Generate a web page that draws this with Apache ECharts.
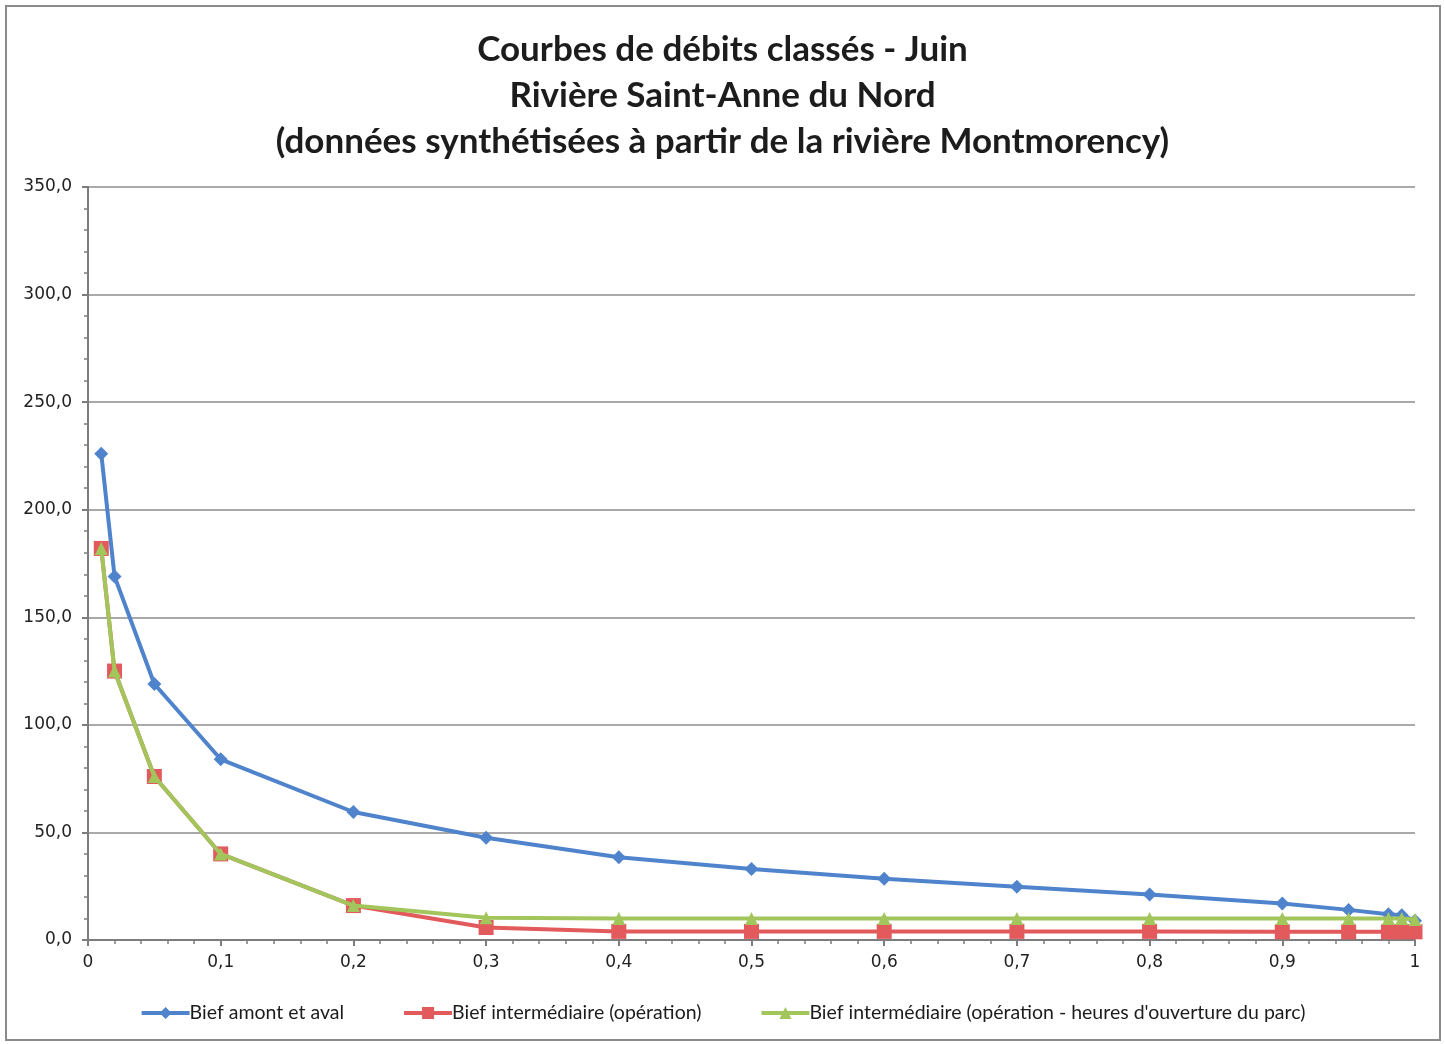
<!DOCTYPE html>
<html>
<head>
<meta charset="utf-8">
<script src="https://cdn.jsdelivr.net/npm/echarts@6/dist/echarts.min.js"></script>
<style>
  html, body { margin: 0; padding: 0; background: #fff; }
  #chart { width: 1445px; height: 1044px; }
</style>
</head>
<body>
<div id="chart"></div>
<script>
// Fréquence de dépassement (fraction du temps)
const frequences = [0.01, 0.02, 0.05, 0.1, 0.2, 0.3, 0.4, 0.5, 0.6, 0.7, 0.8, 0.9, 0.95, 0.98, 0.99, 1.0];
// Débits (m³/s)
const biefAmontAval = [226, 169, 119, 84, 59.5, 47.5, 38.5, 33, 28.5, 24.8, 21.2, 17, 14, 12, 11.5, 9];
const biefOperation = [182, 125, 76, 40, 16, 5.8, 4, 4, 4, 4, 4, 3.8, 3.8, 3.8, 3.8, 3.8];
const biefOuverture = [182, 125, 76, 40, 16, 10.3, 10, 10, 10, 10, 10, 10, 10, 10, 10, 9.5];

const titre = 'Courbes de débits classés - Juin\nRivière Saint-Anne du Nord\n(données synthétisées à partir de la rivière Montmorency)';
const nomsSeries = ['Bief amont et aval', 'Bief intermédiaire (opération)', 'Bief intermédiaire (opération - heures d\'ouverture du parc)'];
const couleurs = ['#4f84cc', '#e25a5c', '#a2c65c'];

const toPairs = (ys) => frequences.map((x, i) => [x, ys[i]]);
const frNum = (v, d) => v.toFixed(d).replace('.', ',');

const chart = echarts.init(document.getElementById('chart'), null, { renderer: 'canvas' });

chart.setOption({
  backgroundColor: '#ffffff',
  animation: false,
  color: couleurs,
  graphic: [{
    type: 'rect',
    shape: { x: 6, y: 6, width: 1434, height: 1034 },
    style: { fill: 'none', stroke: '#8a8a8a', lineWidth: 2 },
    silent: true
  }],
  title: {
    text: titre,
    left: 'center',
    top: 22,
    textStyle: {
      fontFamily: 'Lato',
      fontWeight: 'bold',
      fontSize: 35,
      lineHeight: 46,
      color: '#1c1c1c'
    }
  },
  legend: {
    bottom: 16,
    left: 'center',
    itemWidth: 48,
    itemHeight: 15,
    itemGap: 58,
    lineStyle: { width: 4 },
    textStyle: { fontFamily: 'Lato', fontSize: 19.5, color: '#1c1c1c', padding: [0, 0, 0, -5] },
    data: nomsSeries
  },
  grid: { left: 88, right: 30, top: 187, bottom: 104, containLabel: false },
  xAxis: {
    type: 'value',
    min: 0,
    max: 1,
    interval: 0.1,
    axisLine: { show: true, lineStyle: { color: '#7d7d7d', width: 2 } },
    axisTick: { show: true, inside: false, length: 6, lineStyle: { color: '#7d7d7d', width: 2 } },
    minorTick: { show: true, splitNumber: 5, length: 4, lineStyle: { color: '#7d7d7d', width: 1.5 } },
    splitLine: { show: false },
    axisLabel: {
      fontFamily: 'DejaVu Sans',
      fontSize: 17,
      color: '#222',
      margin: 14,
      formatter: (v) => (v === 0 || v === 1) ? String(v) : frNum(v, 1)
    }
  },
  yAxis: {
    type: 'value',
    min: 0,
    max: 350,
    interval: 50,
    axisLine: { show: true, lineStyle: { color: '#7d7d7d', width: 2 } },
    axisTick: { show: true, inside: false, length: 6, lineStyle: { color: '#7d7d7d', width: 2 } },
    minorTick: { show: true, splitNumber: 5, length: 4, lineStyle: { color: '#7d7d7d', width: 1.5 } },
    splitLine: { show: true, lineStyle: { color: '#8c8c8c', width: 1.5 } },
    axisLabel: {
      fontFamily: 'DejaVu Sans',
      fontSize: 17,
      color: '#222',
      margin: 16,
      formatter: (v) => frNum(v, 1)
    }
  },
  series: [
    {
      name: nomsSeries[0],
      type: 'line',
      data: toPairs(biefAmontAval),
      symbol: 'diamond',
      symbolSize: 14,
      lineStyle: { width: 4, color: couleurs[0] },
      itemStyle: { color: couleurs[0] },
      z: 3
    },
    {
      name: nomsSeries[1],
      type: 'line',
      data: toPairs(biefOperation),
      symbol: 'rect',
      symbolSize: 15,
      lineStyle: { width: 4, color: couleurs[1] },
      itemStyle: { color: couleurs[1] },
      z: 4
    },
    {
      name: nomsSeries[2],
      type: 'line',
      data: toPairs(biefOuverture),
      symbol: 'triangle',
      symbolSize: 13,
      lineStyle: { width: 4, color: couleurs[2] },
      itemStyle: { color: couleurs[2] },
      z: 5
    }
  ]
});
</script>
</body>
</html>
